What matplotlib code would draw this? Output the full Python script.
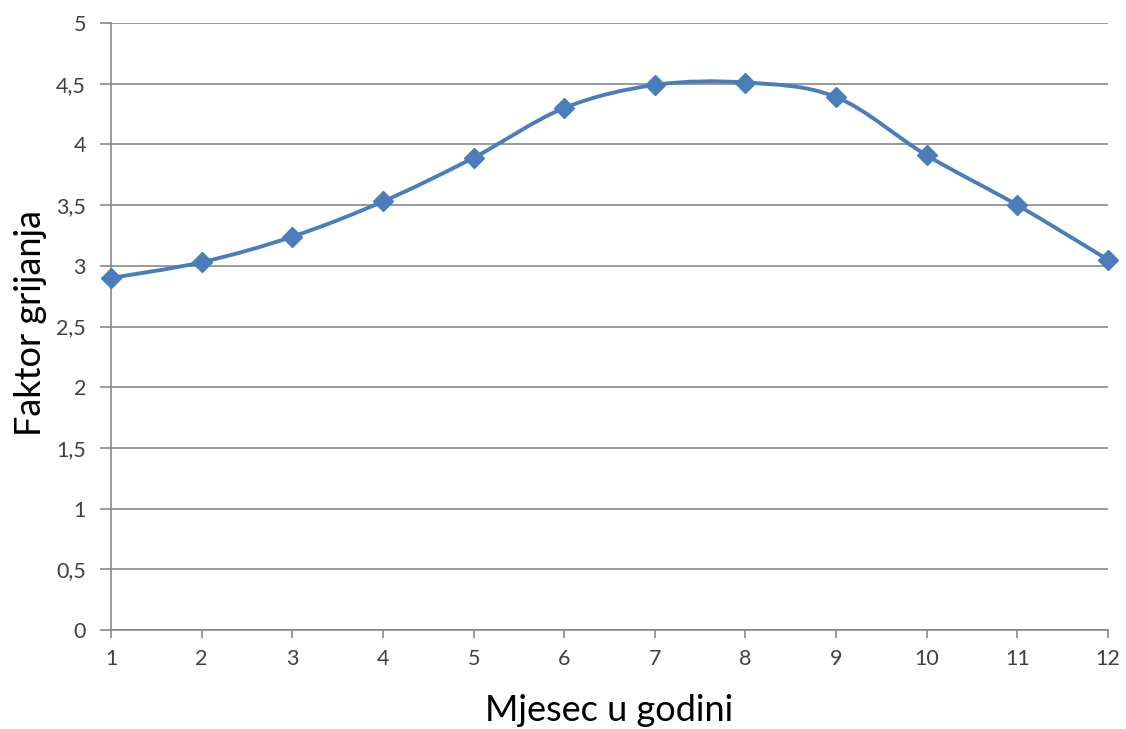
import matplotlib
matplotlib.use("Agg")
import matplotlib.pyplot as plt
from matplotlib.path import Path
from matplotlib.patches import PathPatch
from matplotlib.ticker import FuncFormatter

months = [1, 2, 3, 4, 5, 6, 7, 8, 9, 10, 11, 12]
factor = [2.90, 3.03, 3.24, 3.53, 3.89, 4.30, 4.49, 4.51, 4.39, 3.91, 3.50, 3.05]

LINE_BLUE = "#4a7ebb"
GRID_GREY = "#898989"
TEXT_GREY = "#404040"

plt.rcParams["font.family"] = ["Lato", "DejaVu Sans"]


def smooth_path(xs, ys, tension=1.0 / 6.0):
    """Bezier path through the points, like a spreadsheet's smoothed line."""
    verts = [(xs[0], ys[0])]
    codes = [Path.MOVETO]
    n = len(xs)
    for i in range(n - 1):
        x0, y0 = (xs[i - 1], ys[i - 1]) if i > 0 else (xs[i], ys[i])
        x1, y1 = xs[i], ys[i]
        x2, y2 = xs[i + 1], ys[i + 1]
        x3, y3 = (xs[i + 2], ys[i + 2]) if i + 2 < n else (x2, y2)
        c1 = (x1 + (x2 - x0) * tension, y1 + (y2 - y0) * tension)
        c2 = (x2 - (x3 - x1) * tension, y2 - (y3 - y1) * tension)
        verts += [c1, c2, (x2, y2)]
        codes += [Path.CURVE4] * 3
    return Path(verts, codes)


fig = plt.figure(figsize=(11.26, 7.29), dpi=100)
ax = fig.add_axes([0.0986, 0.1358, 0.8854, 0.8326])

ax.add_patch(PathPatch(smooth_path(months, factor), facecolor="none",
                       edgecolor=LINE_BLUE, linewidth=2.8, zorder=3,
                       clip_on=False))
ax.plot(months, factor, linestyle="none", marker="D", markersize=10,
        color=LINE_BLUE, zorder=4, clip_on=False)

ax.set_xlim(1, 12)
ax.set_ylim(0, 5)
ax.set_xticks(months)
ax.set_yticks([i * 0.5 for i in range(11)])
ax.yaxis.set_major_formatter(FuncFormatter(lambda v, p: f"{v:g}".replace(".", ",")))

ax.grid(axis="y", color=GRID_GREY, linewidth=1.2)
ax.set_axisbelow(True)
for side in ("top", "right"):
    ax.spines[side].set_visible(False)
for side in ("left", "bottom"):
    ax.spines[side].set_color(GRID_GREY)
    ax.spines[side].set_linewidth(1.2)

ax.tick_params(axis="y", direction="out", length=8, width=1.2, color=GRID_GREY,
               labelsize=15.5, labelcolor=TEXT_GREY, pad=10)
ax.tick_params(axis="x", direction="out", length=6, width=1.2, color=GRID_GREY,
               labelsize=15.5, labelcolor=TEXT_GREY, pad=8)

ax.set_xlabel("Mjesec u godini", fontsize=26, color="black", va="center")
ax.set_ylabel("Faktor grijanja", fontsize=26, color="black", va="center")
ax.xaxis.set_label_coords(0.5, -0.132)
ax.yaxis.set_label_coords(-0.081, 0.505)

fig.savefig("out.png", dpi=100)
